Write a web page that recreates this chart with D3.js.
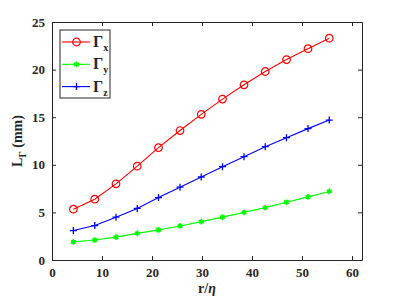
<!DOCTYPE html>
<html>
<head>
<meta charset="utf-8">
<script src="https://cdn.jsdelivr.net/npm/d3@7"></script>
<style>
body{margin:0;background:#fff}
svg text{font-family:"Liberation Serif","Times New Roman",serif;font-weight:bold}
</style>
</head>
<body>
<div id="chart"></div>
<script>
var rEta=[4.27,8.55,12.8,17.05,21.3,25.6,29.85,34.1,38.4,42.65,46.9,51.2,55.45]
var gammaX=[5.34,6.39,8.0,9.86,11.8,13.6,15.3,16.9,18.4,19.8,21.05,22.2,23.3]
var gammaY=[1.9,2.1,2.4,2.8,3.16,3.58,4.03,4.5,5.0,5.5,6.07,6.63,7.2]
var gammaZ=[3.09,3.62,4.5,5.42,6.56,7.65,8.72,9.8,10.85,11.9,12.85,13.8,14.7]
var xTicks=[0,10,20,30,40,50,60]
var yTicks=[0,5,10,15,20,25]
var seriesNames=["x","y","z"]
var seriesColors=["#ff0000","#00ff00","#0000ff"]
var seriesMarkers=["circle","star","plus"]

var W=399,H=299
var m={left:52,right:37,top:22,bottom:39}
var svg=d3.select("#chart").append("svg").attr("width",W).attr("height",H)

var x=d3.scaleLinear().domain([0,62]).range([m.left,W-m.right])
var y=d3.scaleLinear().domain([0,25]).range([H-m.bottom,m.top])

// axes with inward ticks, mirrored on top/right
function styleAxis(g){
	g.attr("font-family","Liberation Serif, Times New Roman, serif").attr("font-weight","bold")
	g.select(".domain").attr("stroke","#262626")
	g.selectAll(".tick line").attr("stroke","#262626")
	g.selectAll(".tick text").attr("fill","#262626").attr("font-size","13px")
}
svg.append("g").attr("transform","translate(0,"+(H-m.bottom)+")")
	.call(d3.axisBottom(x).tickValues(xTicks).tickSizeInner(-4).tickSizeOuter(0).tickPadding(8))
	.call(styleAxis)
svg.append("g").attr("transform","translate("+m.left+",0)")
	.call(d3.axisLeft(y).tickValues(yTicks).tickSizeInner(-4).tickSizeOuter(0).tickPadding(7))
	.call(styleAxis)
svg.append("g").attr("transform","translate(0,"+m.top+")")
	.call(d3.axisTop(x).tickValues(xTicks).tickSizeInner(-4).tickSizeOuter(0).tickFormat(""))
	.call(styleAxis)
svg.append("g").attr("transform","translate("+(W-m.right)+",0)")
	.call(d3.axisRight(y).tickValues(yTicks).tickSizeInner(-4).tickSizeOuter(0).tickFormat(""))
	.call(styleAxis)

function drawMarker(g,type,color){
	if(type=="circle"){
		g.append("circle").attr("r",3.8).attr("fill","none").attr("stroke",color).attr("stroke-width",1.2)
	}else if(type=="star"){
		g.append("path").attr("d",d3.symbol(d3.symbolAsterisk,22)).attr("fill",color).attr("stroke",color).attr("stroke-width",1.6)
		g.append("circle").attr("r",2).attr("fill",color)
	}else{
		g.append("path").attr("d","M-3.5,0H3.5M0,-3.5V3.5").attr("stroke",color).attr("stroke-width",1.3)
	}
}

var line=d3.line().x(function(d){return x(d[0])}).y(function(d){return y(d[1])})
var allSeries=[gammaX,gammaY,gammaZ]
allSeries.forEach(function(vals,k){
	var pts=rEta.map(function(r,i){return [r,vals[i]]})
	svg.append("path").datum(pts).attr("d",line).attr("fill","none")
		.attr("stroke",seriesColors[k]).attr("stroke-width",1.1)
	svg.selectAll(".mk"+k).data(pts).enter().append("g")
		.attr("transform",function(d){return "translate("+x(d[0])+","+y(d[1])+")"})
		.each(function(){drawMarker(d3.select(this),seriesMarkers[k],seriesColors[k])})
})

// legend
var leg=svg.append("g").attr("transform","translate(60,30)")
leg.append("rect").attr("width",50).attr("height",68).attr("fill","#fff").attr("stroke","#262626").attr("stroke-width",1)
seriesNames.forEach(function(n,k){
	var ly=12+k*22.3
	var e=leg.append("g").attr("transform","translate(0,"+ly+")")
	e.append("line").attr("x1",2).attr("x2",30).attr("stroke",seriesColors[k]).attr("stroke-width",1.1)
	drawMarker(e.append("g").attr("transform","translate(16.5,0)"),seriesMarkers[k],seriesColors[k])
	var t=e.append("text").attr("x",33).attr("y",5).attr("font-size","16px").attr("fill","#262626")
	t.append("tspan").text("Γ")
	t.append("tspan").attr("font-size","10px").attr("dy",4).text(n)
})

// axis labels
svg.append("text").attr("x",(m.left+W-m.right)/2).attr("y",293).attr("text-anchor","middle")
	.attr("font-size","14px").attr("fill","#262626")
	.html('r/<tspan font-style="italic">η</tspan>')
var yl=svg.append("text").attr("transform","translate(22,"+((m.top+H-m.bottom)/2)+") rotate(-90)")
	.attr("text-anchor","middle").attr("font-size","14px").attr("fill","#262626")
yl.append("tspan").text("L")
yl.append("tspan").attr("font-size","10px").attr("dy",4).text("Γ")
yl.append("tspan").attr("dy",-4).text(" (mm)")
</script>
</body>
</html>
